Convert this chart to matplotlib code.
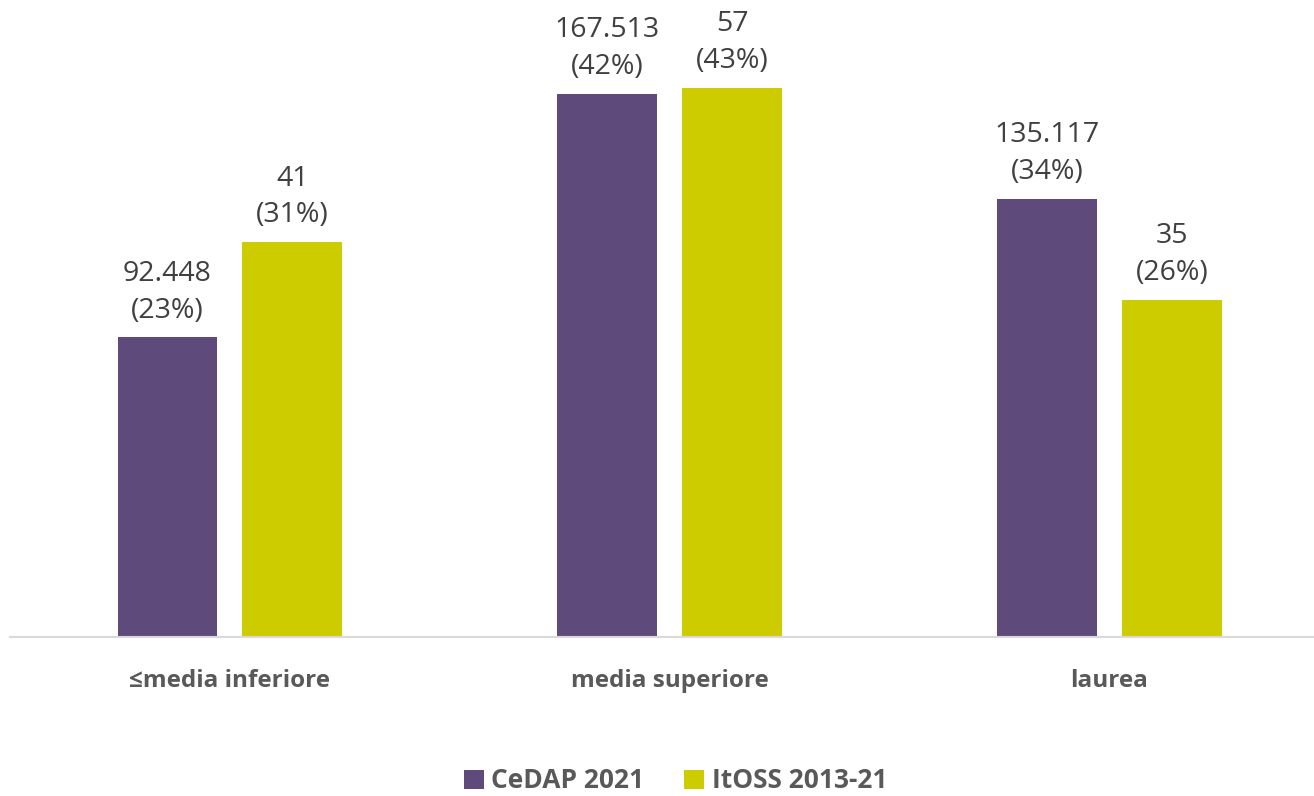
import matplotlib.pyplot as plt
import numpy as np

plt.rcParams['font.family'] = ['Open Sans', 'DejaVu Sans']

categories = ['≤media inferiore', 'media superiore', 'laurea']
cedap_counts = [92448, 167513, 135117]
cedap_labels = ['92.448', '167.513', '135.117']
itoss_counts = [41, 57, 35]
itoss_labels = ['41', '57', '35']
series_names = ['CeDAP 2021', 'ItOSS 2013-21']

purple = '#5F4B7B'
yellow = '#CCCC00'

cedap_share = np.array(cedap_counts) / sum(cedap_counts) * 100
itoss_share = np.array(itoss_counts) / sum(itoss_counts) * 100

fig = plt.figure(figsize=(13.14, 7.96), dpi=100)
ax = fig.add_axes([0.0076, 0.1997, 0.9924, 0.8003])

x = np.arange(len(categories))
w = 0.227
off = 0.142
b1 = ax.bar(x - off, cedap_share, w, color=purple, label=series_names[0])
b2 = ax.bar(x + off, itoss_share, w, color=yellow, label=series_names[1])

for bars, shares, labels in [(b1, cedap_share, cedap_labels), (b2, itoss_share, itoss_labels)]:
    for rect, s, lab in zip(bars, shares, labels):
        ax.annotate(f'{lab}\n({s:.0f}%)', (rect.get_x() + rect.get_width() / 2, rect.get_height()),
                    xytext=(0, 9), textcoords='offset points', ha='center', va='bottom',
                    fontsize=20.5, color='#404040', linespacing=1.42)

ax.set_xlim(-0.5, 2.465)
ax.set_ylim(0, 49.7)
ax.set_yticks([])
ax.set_xticks(x)
ax.set_xticklabels(categories, fontsize=17.5, fontweight='bold', color='#595959')
ax.tick_params(axis='x', length=0, pad=23)
for sp in ['top', 'right', 'left']:
    ax.spines[sp].set_visible(False)
ax.spines['bottom'].set_color('#D9D9D9')
ax.spines['bottom'].set_linewidth(1.5)

fig.legend(handles=[b1, b2], loc='center', bbox_to_anchor=(0.514, 0.019), ncol=2, frameon=False,
           prop={'size': 19, 'weight': 'bold'}, labelcolor='#595959', handlelength=0.75,
           handleheight=0.75, handletextpad=0.3, columnspacing=1.5, borderpad=0.2)

fig.savefig('out.png', dpi=100)
